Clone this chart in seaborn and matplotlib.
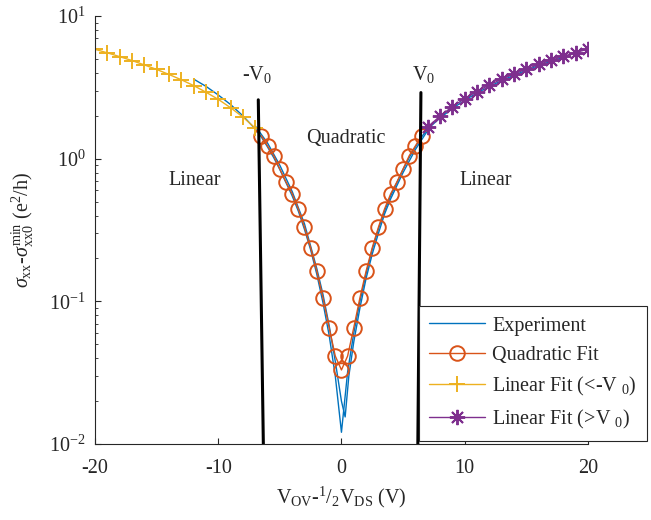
import numpy as np
import pandas as pd
import matplotlib
matplotlib.use("Agg")
import matplotlib.pyplot as plt
import seaborn as sns

# -----------------------------
# Data
# -----------------------------
# experiment, sweep A
exp_x = [-12, -11, -10, -9, -8, -7, -6.5, -6, -5.5, -5, -4.5, -4, -3.5, -3, -2.5,
         -2, -1.5, -1, -0.5, 0, 0.5, 1, 1.5, 2, 2.5, 3, 3.5, 4, 4.5, 5, 5.5, 6,
         6.5, 7, 8, 9, 10, 11, 12, 13, 14, 15, 16, 17, 18]
exp_y = [3.62, 3.22, 2.80, 2.40, 2.00, 1.62, 1.42, 1.21, 1.02, 0.84, 0.68, 0.55, 0.43, 0.32, 0.23,
         0.155, 0.098, 0.058, 0.030, 0.0121, 0.032, 0.060, 0.100, 0.157, 0.232, 0.322, 0.432, 0.552, 0.682, 0.842, 1.02, 1.21,
         1.42, 1.62, 1.93, 2.25, 2.57, 2.89, 3.21, 3.53, 3.85, 4.17, 4.50, 4.82, 5.14]

# experiment, sweep B (only differs inside the quadratic region)
exp_b_x = [-7, -6, -5, -4, -3, -2, -1.5, -1, -0.5, 0, 0.3, 0.6, 1, 1.5, 2, 2.5, 3, 3.5, 4, 5, 6, 7]
exp_b_y = [1.70, 1.29, 0.90, 0.59, 0.35, 0.17, 0.112, 0.068, 0.038, 0.020, 0.0155, 0.030, 0.052, 0.090,
           0.145, 0.215, 0.30, 0.41, 0.525, 0.80, 1.16, 1.58]

# quadratic fit (|V| < V0)
quad_x = [-6.5, -6, -5.5, -5, -4.5, -4, -3.5, -3, -2.5, -2, -1.5, -1, -0.5, 0,
          0.5, 1, 1.5, 2, 2.5, 3, 3.5, 4, 4.5, 5, 5.5, 6, 6.5]
quad_y = [1.45, 1.23, 1.05, 0.847, 0.687, 0.569, 0.445, 0.331, 0.238, 0.163, 0.106, 0.0655, 0.0414, 0.0331,
          0.0414, 0.0655, 0.106, 0.163, 0.238, 0.331, 0.445, 0.569, 0.687, 0.847, 1.05, 1.23, 1.45]

# linear fit (< -V0)
lin_neg_x = [-20, -19, -18, -17, -16, -15, -14, -13, -12, -11, -10, -9, -8, -7]
lin_neg_y = [5.85, 5.53, 5.20, 4.88, 4.55, 4.23, 3.90, 3.58, 3.26, 2.93, 2.61, 2.28, 1.96, 1.64]

# linear fit (> V0)
lin_pos_x = [7, 8, 9, 10, 11, 12, 13, 14, 15, 16, 17, 18, 19, 20]
lin_pos_y = [1.67, 1.99, 2.32, 2.64, 2.96, 3.29, 3.61, 3.93, 4.25, 4.58, 4.90, 5.22, 5.55, 5.87]

# -V0 / V0 markers (black lines)
vneg_x = [-6.34, -6.75]
vneg_y = [0.01, 2.59]
vpos_x = [6.2, 6.45]
vpos_y = [0.01, 2.91]

c_blue = "#0072BD"
c_orange = "#D95319"
c_yellow = "#EDB120"
c_purple = "#7E2F8E"

# -----------------------------
# Style
# -----------------------------
sns.set_theme(style="white")
plt.rcParams["font.family"] = ["Liberation Serif", "DejaVu Serif"]
plt.rcParams["mathtext.fontset"] = "custom"
plt.rcParams["mathtext.rm"] = "Liberation Serif"
plt.rcParams["mathtext.it"] = "Liberation Serif:italic"
plt.rcParams["mathtext.bf"] = "Liberation Serif:bold"
plt.rcParams["axes.unicode_minus"] = False
fs = 14.5

fig = plt.figure(figsize=(6.51, 5.2), dpi=100)
ax = fig.add_axes([0.146, 0.146, 0.757, 0.823])

sns.lineplot(x=exp_x, y=exp_y, ax=ax, color=c_blue, lw=1.0, sort=False,
             errorbar=None, label="Experiment")
sns.lineplot(x=exp_b_x, y=exp_b_y, ax=ax, color=c_blue, lw=1.0, sort=False,
             errorbar=None)
sns.lineplot(x=quad_x, y=quad_y, ax=ax, color=c_orange, lw=1.0, sort=False,
             errorbar=None, marker="o", ms=10.5, mfc="none", mec=c_orange, mew=1.4,
             label="Quadratic Fit")
sns.lineplot(x=lin_neg_x, y=lin_neg_y, ax=ax, color=c_yellow, lw=1.0, sort=False,
             errorbar=None, marker="+", ms=12, mec=c_yellow, mew=1.4,
             label=r"Linear Fit (<-V $_0$)")
sns.lineplot(x=lin_pos_x, y=lin_pos_y, ax=ax, color=c_purple, lw=1.0, sort=False,
             errorbar=None, marker=(8, 2, 0), ms=11, mec=c_purple, mew=1.4,
             label=r"Linear Fit (>V $_0$)")

ax.plot(vneg_x, vneg_y, color="black", lw=2.2)
ax.plot(vpos_x, vpos_y, color="black", lw=2.2)

ax.set_yscale("log")
ax.set_xlim(-20, 20)
ax.set_ylim(0.01, 10)
ax.set_xticks([-20, -10, 0, 10, 20])

for s in ["top", "right"]:
    ax.spines[s].set_visible(False)
for s in ["left", "bottom"]:
    ax.spines[s].set_color("#262626")
    ax.spines[s].set_linewidth(0.8)

ax.tick_params(axis="both", which="major", direction="in", length=4, width=0.8,
               color="#262626", labelsize=fs, labelcolor="#262626", left=True, bottom=True)
ax.tick_params(axis="y", which="minor", direction="in", length=2.5, width=0.6,
               color="#262626", left=True)
ax.tick_params(axis="x", pad=11)
ax.tick_params(axis="y", pad=7)

# annotations
ax.text(-8.07, 3.57, r"-V$_0$", fontsize=fs, ha="left", va="baseline")
ax.text(5.7, 3.57, r"V$_0$", fontsize=fs, ha="left", va="baseline")
ax.text(-2.88, 1.29, "Quadratic", fontsize=fs, ha="left", va="baseline")
ax.text(-14.05, 0.658, "Linear", fontsize=fs, ha="left", va="baseline")
ax.text(9.61, 0.658, "Linear", fontsize=fs, ha="left", va="baseline")

ax.set_xlabel(r"V$_{\rm OV}$-$^{1}$/$_{2}$V$_{\rm DS}$ (V)", fontsize=fs, color="#262626")
ax.set_ylabel(r"$\sigma_{\rm xx}$-$\sigma^{\rm min}_{\rm xx0}$ (e$^2$/h)", fontsize=fs, color="#262626")
ax.xaxis.set_label_coords(0.5, -0.095)
ax.yaxis.set_label_coords(-0.12, 0.5)

leg = ax.legend(loc="lower right", bbox_to_anchor=(0.994, 0.152),
                bbox_transform=fig.transFigure, fontsize=fs, frameon=True,
                fancybox=False, framealpha=1, edgecolor="#262626",
                handlelength=2.8, handletextpad=0.35, labelspacing=0.5,
                borderpad=0.5, borderaxespad=0)
leg.get_frame().set_linewidth(0.8)

fig.savefig("out.png", dpi=100)
